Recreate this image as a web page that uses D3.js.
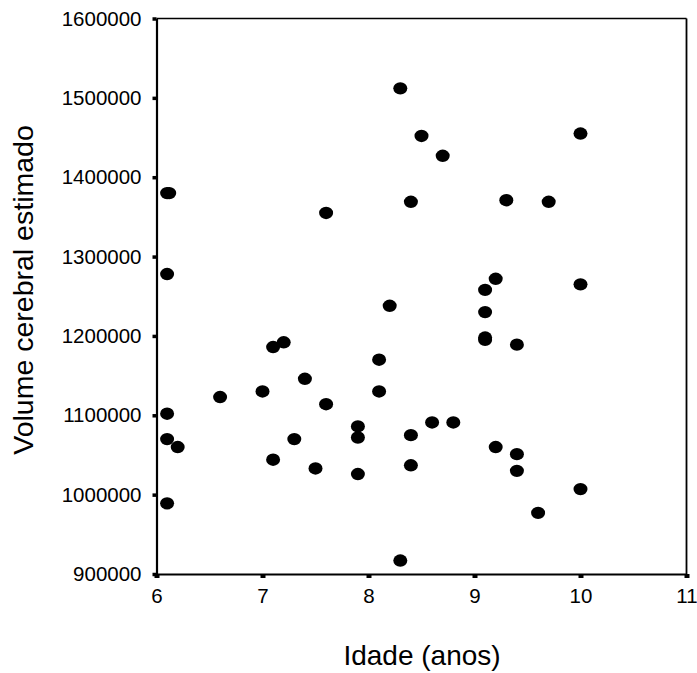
<!DOCTYPE html>
<html>
<head>
<meta charset="utf-8">
<script src="https://cdn.jsdelivr.net/npm/d3@7"></script>
<style>
  body { margin: 0; background: #fff; }
  text { font-family: "Liberation Sans", Arial, sans-serif; fill: #000; }
</style>
</head>
<body>
<div id="scatter"></div>
<script>
// idade (anos) e volume cerebral estimado
var idade = [8.3, 8.5, 8.7, 10.0, 6.1, 6.12, 8.4, 9.3, 9.7, 7.6,
             6.1, 10.0, 9.2, 9.1, 8.2, 9.1, 9.1, 9.1, 9.4, 7.1,
             7.2, 8.1, 8.1, 7.4, 7.0, 6.6, 7.6, 6.1, 7.9, 7.9,
             8.4, 8.6, 8.8, 6.1, 6.2, 7.3, 7.1, 7.5, 7.9, 8.4,
             9.2, 9.4, 9.4, 10.0, 9.6, 6.1, 8.3];
var volume = [1512000, 1452000, 1427000, 1455000, 1380000, 1380000, 1369000, 1371000, 1369000, 1355000,
              1278000, 1265000, 1272000, 1258000, 1238000, 1230000, 1198000, 1195000, 1189000, 1186000,
              1192000, 1170000, 1130000, 1146000, 1130000, 1123000, 1114000, 1102000, 1086000, 1072000,
              1075000, 1091000, 1091000, 1070000, 1060000, 1070000, 1044000, 1033000, 1026000, 1037000,
              1060000, 1051000, 1030000, 1007000, 977000, 989000, 917000];
var xTicks = [6, 7, 8, 9, 10, 11];
var yTicks = [900000, 1000000, 1100000, 1200000, 1300000, 1400000, 1500000, 1600000];

var svg_Width = 697;
var svg_Height = 673;

var svg = d3.select('#scatter')
  .append('svg')
  .attr('width', svg_Width)
  .attr('height', svg_Height);

var x = d3.scaleLinear().domain([6, 11]).range([156.5, 686.5]);
var y = d3.scaleLinear().domain([900000, 1600000]).range([574, 18.5]);

// frame: top and right thinner
svg.append('line')
  .attr('x1', x(6)).attr('x2', x(11))
  .attr('y1', y(1600000)).attr('y2', y(1600000))
  .attr('stroke', '#000').attr('stroke-width', 1.5);
svg.append('line')
  .attr('x1', x(11)).attr('x2', x(11))
  .attr('y1', y(1600000)).attr('y2', y(900000))
  .attr('stroke', '#000').attr('stroke-width', 1.8);

var xAxis = svg.append('g')
  .attr('transform', 'translate(0,' + y(900000) + ')')
  .call(d3.axisBottom(x).tickValues(xTicks).tickSize(4).tickSizeOuter(0).tickPadding(10).tickFormat(d3.format('d')));
xAxis.select('.domain').attr('stroke-width', 2.2);
xAxis.selectAll('.tick line').attr('stroke-width', 5);
xAxis.selectAll('.tick text').attr('font-size', '20.5px').attr('font-family', '"Liberation Sans", Arial, sans-serif');

var yAxis = svg.append('g')
  .attr('transform', 'translate(' + x(6) + ',0)')
  .call(d3.axisLeft(y).tickValues(yTicks).tickSize(4).tickSizeOuter(0).tickPadding(11).tickFormat(d3.format('d')));
yAxis.select('.domain').attr('stroke-width', 2.2);
yAxis.selectAll('.tick line').attr('stroke-width', 3.5);
yAxis.selectAll('.tick text').attr('font-size', '20.5px').attr('font-family', '"Liberation Sans", Arial, sans-serif');

var pontos = idade.map(function(d, i) { return { idade: d, volume: volume[i] }; });

svg.append('g')
  .selectAll('ellipse')
  .data(pontos)
  .enter()
  .append('ellipse')
  .attr('cx', function(d) { return x(d.idade); })
  .attr('cy', function(d) { return y(d.volume); })
  .attr('rx', 7)
  .attr('ry', 6.2)
  .attr('fill', '#000');

svg.append('text')
  .attr('x', 422)
  .attr('y', 665)
  .attr('text-anchor', 'middle')
  .attr('font-size', '28px')
  .text('Idade (anos)');

svg.append('text')
  .attr('transform', 'translate(33,290) rotate(-90)')
  .attr('text-anchor', 'middle')
  .attr('font-size', '28.5px')
  .text('Volume cerebral estimado');
</script>
</body>
</html>
